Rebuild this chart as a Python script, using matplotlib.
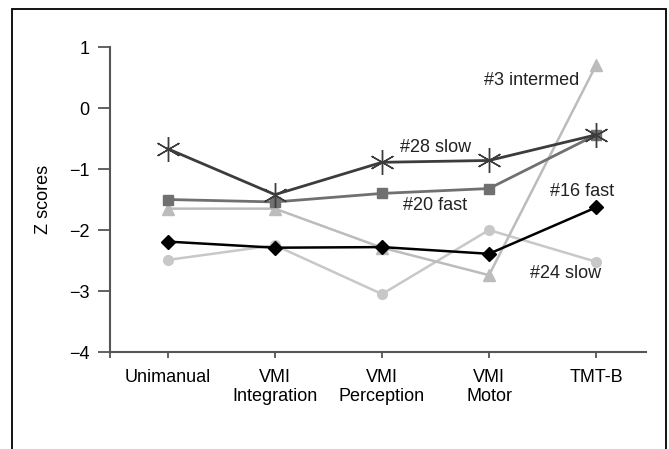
import matplotlib
matplotlib.use("Agg")
import matplotlib.pyplot as plt
from matplotlib import font_manager
from matplotlib.patches import Rectangle

# fonte estreita, parecida com Helvetica Condensed
nomes = {f.name for f in font_manager.fontManager.ttflist}
if "Liberation Sans Narrow" in nomes:
    plt.rcParams['font.family'] = ['Liberation Sans Narrow', 'DejaVu Sans']
else:
    plt.rcParams['font.family'] = ['Liberation Sans', 'DejaVu Sans']

# Dados
categorias = ['Unimanual', 'VMI\nIntegration', 'VMI\nPerception', 'VMI\nMotor', 'TMT-B']
s28_slow = [-0.67, -1.42, -0.89, -0.86, -0.44]
s20_fast = [-1.50, -1.54, -1.40, -1.32, -0.44]
s3_intermed = [-1.65, -1.65, -2.29, -2.74, 0.70]
s16_fast = [-2.19, -2.29, -2.28, -2.39, -1.63]
s24_slow = [-2.49, -2.25, -3.05, -2.00, -2.52]

x = list(range(len(categorias)))

fig = plt.figure(figsize=(6.69, 4.49), dpi=100)
ax = fig.add_axes([0.1644, 0.216, 0.8012, 0.6793])

# moldura externa (sem borda de baixo visível)
fig.patches.append(Rectangle((12/669, -0.05), 654/669, 1.05 - 9/449, transform=fig.transFigure,
                             fill=False, edgecolor='black', linewidth=1.3))

ax.plot(x, s24_slow, color='#c8c8c8', marker='o', markersize=7, linewidth=1.8, zorder=2)
ax.plot(x, s3_intermed, color='#bcbcbc', marker='^', markersize=8, linewidth=1.8, zorder=3)
ax.plot(x, s16_fast, color='black', marker='D', markersize=7, linewidth=1.8, zorder=4)
ax.plot(x, s20_fast, color='#707070', marker='s', markersize=7, linewidth=2.0, zorder=5)
ax.plot(x, s28_slow, color='#3c3c3c', marker=(6, 2, 0), markersize=18, markeredgewidth=1.0,
        linewidth=2.0, zorder=6)

# rótulos das séries
ax.text(3.40, 0.45, '#3 intermed', fontsize=13, ha='center', va='center', color='#222222')
ax.text(2.50, -0.64, '#28 slow', fontsize=13, ha='center', va='center', color='#222222')
ax.text(2.50, -1.60, '#20 fast', fontsize=13, ha='center', va='center', color='#222222')
ax.text(3.87, -1.37, '#16 fast', fontsize=13, ha='center', va='center', color='#222222')
ax.text(3.72, -2.72, '#24 slow', fontsize=13, ha='center', va='center', color='#222222')

ax.set_xlim(-0.542, 4.467)
ax.set_ylim(-4, 1)
ax.set_yticks([1, 0, -1, -2, -3, -4])
ax.set_yticklabels(['1', '0', '\u22121', '\u22122', '\u22123', '\u22124'])
ax.set_xticks(x)
ax.set_xticks([-0.542], minor=True)
ax.set_xticklabels(categorias, linespacing=1.15)
ax.set_ylabel('Z scores', fontsize=13, labelpad=12)

for lado in ['top', 'right']:
    ax.spines[lado].set_visible(False)
for lado in ['left', 'bottom']:
    ax.spines[lado].set_color('#555555')
    ax.spines[lado].set_linewidth(1.5)
ax.tick_params(axis='y', direction='out', length=9, width=1.3, color='#555555', labelsize=13, pad=6)
ax.tick_params(axis='x', which='both', direction='out', length=4, width=1.3, color='#555555',
               labelsize=13, pad=8)

fig.savefig('out.png', dpi=100)
